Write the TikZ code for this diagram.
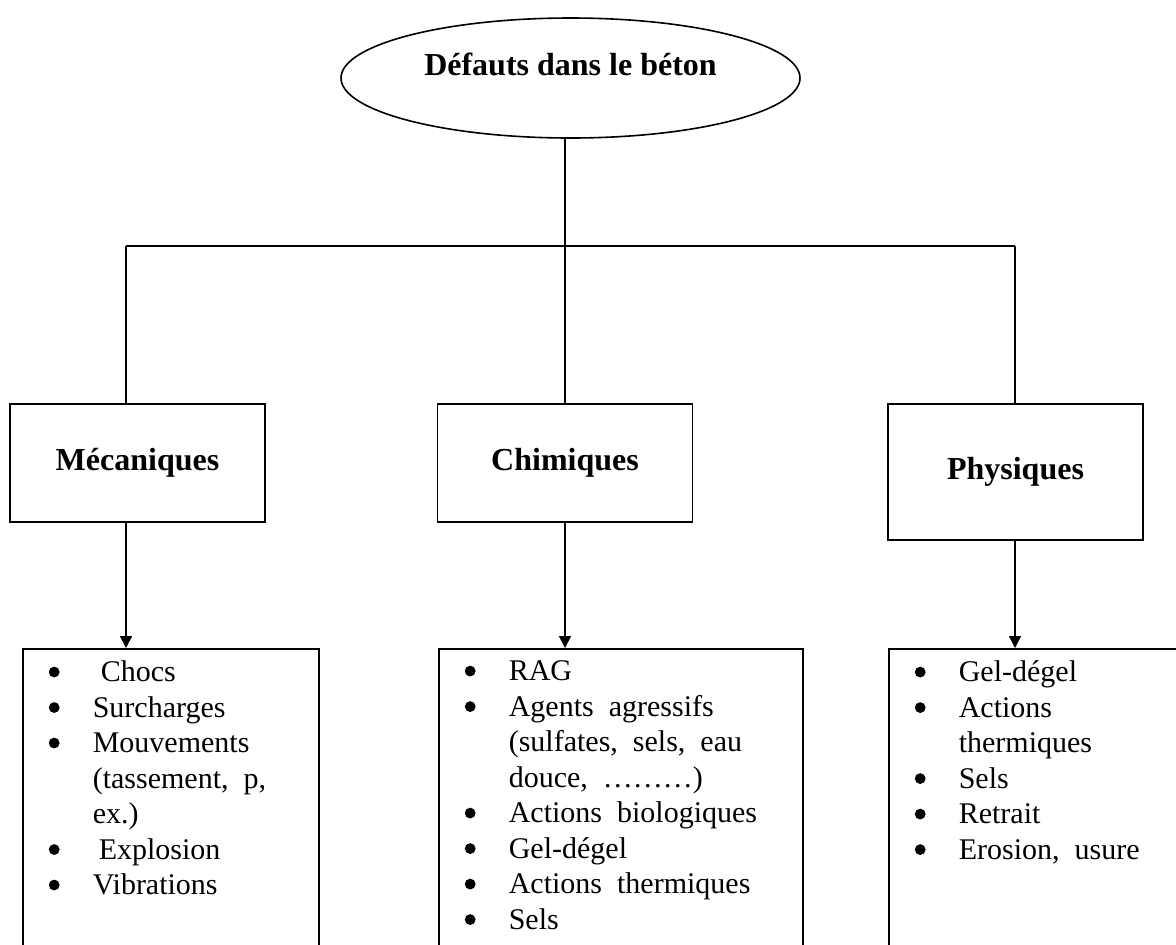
\documentclass[tikz,border=0pt]{standalone}
\usepackage{fontspec}
\setmainfont{Liberation Serif}
\usetikzlibrary{shapes.geometric,arrows.meta}

\tikzset{
	trait/.style={line width=0.8pt},
	categorie/.style={draw, trait, minimum width=127.5pt, minimum height=59pt, inner sep=0pt, font=\fontsize{16}{18}\selectfont\bfseries},
	liste/.style={draw, trait, anchor=north west, inner sep=0pt},
	fleche/.style={trait, -{Triangle[length=6pt,width=6pt]}},
}
\newcommand{\rond}{\tikz[x=1pt, y=1pt, baseline=-4.8pt]\fill (0,0) circle (2.7pt);}
\newcommand{\puce}[1]{\par\noindent\hspace*{13pt}\makebox[22pt][l]{\rond}#1}
\newcommand{\suite}[1]{\par\noindent\hspace*{35pt}#1}
\newcommand{\contenu}[2]{\parbox[t][170pt][t]{#1}{\fontsize{15}{17.75}\selectfont\vspace*{6pt}#2}}

\begin{document}
\begin{tikzpicture}[x=0.5pt, y=-0.5pt]
	\useasboundingbox (0,0) rectangle (1176,944);
	\clip (0,0) rectangle (1176,944);
	\node[ellipse, draw, trait, minimum width=229.5pt, minimum height=60pt, text depth=14pt, font=\fontsize{16}{18}\selectfont\bfseries] (titre) at (570.5,78) {Défauts dans le béton};
	\node[categorie] (meca) at (137.5,463) {Mécaniques};
	\node[categorie] (chim) at (565,463) {Chimiques};
	\node[categorie, minimum height=68pt] (phys) at (1015.5,472) {Physiques};
	\node[liste] (mecl) at (22,648) {\contenu{148pt}{
		\puce{\hspace{4pt}Chocs}
		\puce{Surcharges}
		\puce{Mouvements}
		\suite{(tassement, \ p,}
		\suite{ex.)}
		\puce{\hspace{3pt}Explosion}
		\puce{Vibrations}}};
	\node[liste] (chil) at (438,648) {\contenu{182pt}{
		\puce{RAG}
		\puce{Agents \ agressifs}
		\suite{(sulfates, \ sels, \ eau}
		\suite{douce, \ \dots\dots\dots)}
		\puce{Actions \ biologiques}
		\puce{Gel-dégel}
		\puce{Actions \ thermiques}
		\puce{Sels}}};
	\node[liste] (phyl) at (888,648) {\contenu{170pt}{
		\puce{Gel-dégel}
		\puce{Actions}
		\suite{thermiques}
		\puce{Sels}
		\puce{Retrait}
		\puce{Erosion, \ usure}}};
	\coordinate (gauche) at (126,246);
	\coordinate (droite) at (1015,246);
	\draw[trait] (chim.north |- titre.south) -- (chim.north);
	\draw[trait] (gauche) -- (droite);
	\draw[trait] (gauche) -- (gauche |- meca.north);
	\draw[trait] (droite) -- (droite |- phys.north);
	\draw[fleche] (gauche |- meca.south) -- (gauche |- mecl.north);
	\draw[fleche] (chim.south) -- (chim.south |- chil.north);
	\draw[fleche] (droite |- phys.south) -- (droite |- phyl.north);
\end{tikzpicture}
\end{document}
